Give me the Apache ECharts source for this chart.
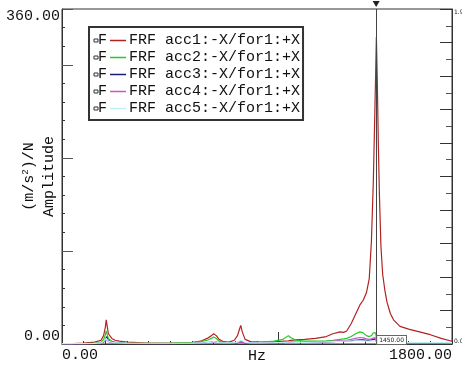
<!DOCTYPE html>
<html><head><meta charset="utf-8">
<script src="https://cdn.jsdelivr.net/npm/echarts@6/dist/echarts.min.js"></script>
<style>html,body{margin:0;padding:0;background:#fff}#c{width:462px;height:370px}</style>
</head><body><div id="c"></div>
<script>
const FONT = 'Liberation Mono';
const freq = [0, 50, 100, 150, 180, 192, 200, 204, 207, 210,
 214, 218, 222, 230, 245, 265, 300, 400, 500, 600,
 640, 670, 690, 700, 706, 712, 725, 745, 770, 795,
 810, 818, 825, 832, 845, 870, 920, 980, 1020, 1045,
 1055, 1080, 1120, 1170, 1220, 1250, 1283, 1300, 1314, 1335,
 1355, 1375, 1390, 1405, 1418, 1428, 1437, 1444, 1448, 1451,
 1455, 1460, 1465, 1472, 1480, 1490, 1500, 1515, 1530, 1560,
 1600, 1650, 1700, 1750, 1800];
const acc1 = [0.5, 0.5, 1, 2, 4, 9, 18, 26, 28, 17,
 11, 12, 9, 6, 4, 3, 2, 1, 1, 1.5,
 3, 6, 9, 11, 12, 9, 5, 2.5, 2, 4,
 9, 15, 20, 13, 5, 2.5, 2, 2.5, 3, 3.5,
 4, 4.5, 5, 6, 8, 11, 13, 12.5, 14, 22,
 32, 42, 47, 55, 70, 110, 176, 250, 295, 330,
 285, 215, 160, 105, 75, 58, 45, 33, 26, 19,
 16, 13, 10, 6, 3];
const acc2 = [0.3, 0.3, 0.5, 1, 2, 5, 10, 14, 15, 9,
 6, 5, 4, 3, 2, 1.5, 1, 0.8, 1, 1.5,
 2.5, 4, 6, 7.5, 8, 6, 3, 1.5, 1, 1,
 1.5, 2, 2.5, 2, 1.5, 1.5, 2, 3, 5, 9,
 7, 4, 3, 3, 3.5, 4, 5, 5.5, 6, 8,
 11, 13, 12, 9, 8, 9, 12, 14, 12, 6,
 3, 2, 1.5, 1.5, 1.5, 1.5, 1.5, 1.5, 1.5, 1.5,
 1.5, 1.5, 1.5, 1.2, 1];
const acc3 = [0.2, 0.2, 0.3, 0.5, 1, 2.5, 5, 7, 8, 5,
 3, 3, 2.5, 2, 1.5, 1, 0.8, 0.5, 0.5, 0.8,
 1, 1.5, 2, 2.5, 2.5, 2, 1.2, 0.8, 0.8, 1,
 1.5, 2, 2.5, 2, 1.2, 1, 1, 1.2, 1.5, 2,
 2, 1.8, 1.8, 2, 2.2, 2.5, 3, 3, 3.2, 3.5,
 4, 4.5, 4.5, 4, 4, 4.5, 5, 5.5, 4.5, 2.5,
 1.5, 1.2, 1, 1, 1, 1, 1, 1, 1, 1,
 1, 1, 1, 1, 0.8];
const acc4 = [0.2, 0.2, 0.3, 0.5, 1, 2, 4, 5, 5.5, 3.5,
 2.5, 2.5, 2, 1.5, 1, 0.8, 0.6, 0.5, 0.5, 0.8,
 1, 1.2, 1.5, 2, 2, 1.5, 1, 0.8, 0.8, 1,
 1.5, 2, 2.5, 2, 1.2, 1, 1, 1.2, 1.5, 2,
 2, 1.8, 1.8, 2, 2.5, 3, 3.5, 3.8, 4, 5,
 6, 7, 6.5, 5.5, 5, 5.5, 6.5, 7, 5, 2.5,
 1.5, 1.2, 1, 1, 1, 1, 1, 1, 1, 1,
 1, 1, 1, 0.8, 0.6];
const acc5 = [0.3, 0.3, 0.4, 0.6, 1.2, 3, 5, 6, 6.5, 4,
 3, 3, 2.5, 2, 1.5, 1.2, 1, 0.8, 0.8, 1,
 1.2, 1.5, 2, 2.5, 2.5, 2, 1.5, 1.2, 1.2, 1.5,
 2, 3, 4, 3, 1.8, 1.2, 1.2, 1.4, 1.6, 2,
 2, 1.8, 1.8, 2, 2.2, 2.5, 2.8, 3, 3, 3.2,
 3.5, 3.5, 3.2, 3, 3, 3.2, 3.5, 3.5, 2.5, 1.8,
 1.5, 1.5, 1.5, 1.5, 1.5, 1.5, 1.5, 1.5, 1.5, 1.5,
 1.5, 1.5, 1.5, 1.5, 1.5];
const seriesNames = ['FRF acc1:-X/for1:+X','FRF acc2:-X/for1:+X','FRF acc3:-X/for1:+X','FRF acc4:-X/for1:+X','FRF acc5:-X/for1:+X'];
const seriesColors = ['#b22222','#22cc22','#1a1a80','#cc55cc','#bff0f8'];
const seriesValues = [acc1, acc2, acc3, acc4, acc5];
const xRange = [0, 1800];
const xTickLabels = {0: '0.00', 1800: '1800.00'};
const yRange = [0, 360];
const yTickLabels = {0: '0.00', 360: '360.00'};
const rightRange = [0, 2];
const rightTickLabels = {0: '0.0', 2: '1.99'};
const cursorFreq = 1450;
const cursorLabel = '1450.00';

const rich = {
  sq: {width: 3, height: 3, borderColor: '#333', borderWidth: 1, verticalAlign: 'middle', padding: [0, 1, 0, 0]},
  f: {fontFamily: FONT, fontSize: 15, color: '#111', padding: [0, 3, 0, 0]},
  t: {fontFamily: FONT, fontSize: 15, color: '#111', padding: [0, 0, 0, 3]}
};
seriesColors.forEach((c, i) => {
  rich['l' + i] = {width: 16, height: 1.5, backgroundColor: c, verticalAlign: 'middle'};
});

const series = seriesNames.map((name, i) => {
  const s = {
    name, type: 'line', showSymbol: false, symbol: 'none', animation: false,
    color: seriesColors[i],
    lineStyle: {width: 1.2, color: seriesColors[i]},
    data: freq.map((f, k) => [f, seriesValues[i][k]])
  };
  if (i === 0) {
    s.markLine = {silent: true, symbol: 'none', animation: false,
      lineStyle: {color: '#444', width: 1, type: 'solid'}, label: {show: false},
      data: [{xAxis: cursorFreq}]};
    s.markPoint = {silent: true, animation: false, data: [
      {coord: [cursorFreq, yRange[1]], symbol: 'triangle', symbolRotate: 180, symbolSize: [7, 6], symbolOffset: [0, -5], itemStyle: {color: '#222'}, label: {show: false}},
      {coord: [cursorFreq, 0], symbol: 'rect', symbolSize: 0, label: {show: true, position: 'right', distance: 1, offset: [0, -4], formatter: cursorLabel, fontFamily: 'DejaVu Sans', fontSize: 6, color: '#222', backgroundColor: '#fff', borderColor: '#666', borderWidth: 1, padding: [1, 2]}}
    ]};
  }
  return s;
});

const chart = echarts.init(document.getElementById('c'), null, {renderer: 'canvas'});
chart.setOption({
  animation: false,
  backgroundColor: '#fff',
  textStyle: {fontFamily: FONT},
  grid: {left: 62, right: 10, top: 9, bottom: 26, containLabel: false, outerBoundsMode: 'none', show: true, borderColor: '#333', borderWidth: 1, backgroundColor: 'transparent'},
  legend: {
    orient: 'vertical', left: 89, top: 27, icon: 'none', itemWidth: 0, itemHeight: 16, itemGap: 0,
    padding: [5, 3, 3, 0], borderColor: '#333', borderWidth: 2, backgroundColor: '#fff',
    data: seriesNames, selectedMode: false,
    formatter: name => {
      const i = seriesNames.indexOf(name);
      return '{sq|}{f|F}{l' + i + '|}{t|' + name + '}';
    },
    textStyle: {fontFamily: FONT, fontSize: 15, color: '#111', lineHeight: 17, rich}
  },
  xAxis: [{
    type: 'value', min: xRange[0], max: xRange[1], interval: 100,
    axisLine: {lineStyle: {color: '#333'}},
    axisTick: {inside: true, length: 3, lineStyle: {color: '#333'}},
    splitLine: {show: false},
    axisLabel: {margin: 4, fontFamily: FONT, fontSize: 15, color: '#111',
      formatter: v => xTickLabels[v] || '', alignMinLabel: 'left', alignMaxLabel: 'right', showMinLabel: true, showMaxLabel: true},
    name: 'Hz', nameLocation: 'middle', nameGap: 5, nameMoveOverlap: false,
    nameTextStyle: {fontFamily: FONT, fontSize: 15, color: '#111', verticalAlign: 'top'}
  }, {
    type: 'value', min: xRange[0], max: xRange[1], interval: 1000, position: 'bottom',
    axisLine: {show: false}, axisLabel: {show: false}, splitLine: {show: false},
    axisTick: {inside: true, length: 12, lineStyle: {color: '#333'}}
  }],
  yAxis: [{
    type: 'value', min: yRange[0], max: yRange[1], interval: 20, position: 'left',
    axisLine: {show: true, lineStyle: {color: '#333'}},
    axisTick: {show: true, inside: true, length: 3, lineStyle: {color: '#333'}},
    splitLine: {show: false},
    axisLabel: {margin: 2, fontFamily: FONT, fontSize: 15, color: '#111',
      formatter: v => yTickLabels[v] || '', verticalAlignMinLabel: 'bottom', verticalAlignMaxLabel: 'top', showMinLabel: true, showMaxLabel: true},
    name: 'Amplitude', nameLocation: 'middle', nameGap: 5, nameRotate: 90, nameMoveOverlap: false,
    nameTextStyle: {fontFamily: FONT, fontSize: 15, color: '#111', verticalAlign: 'bottom'}
  }, {
    type: 'value', min: yRange[0], max: yRange[1], interval: 100, position: 'left',
    axisLine: {show: false}, axisLabel: {show: false}, splitLine: {show: false},
    axisTick: {show: true, inside: true, length: 11, lineStyle: {color: '#555'}},
    name: '(m/s{sup|2})/N', nameLocation: 'middle', nameGap: 24, nameRotate: 90, nameMoveOverlap: false,
    nameTextStyle: {fontFamily: FONT, fontSize: 15, color: '#111', verticalAlign: 'bottom',
      rich: {sup: {fontFamily: FONT, fontSize: 9, color: '#111', verticalAlign: 'top', padding: [0, 0, 8, 0]}}}
  }, {
    type: 'value', min: rightRange[0], max: rightRange[1], interval: 0.1, position: 'right',
    axisLine: {show: true, lineStyle: {color: '#333'}},
    axisTick: {show: true, inside: true, length: 6, lineStyle: {color: '#555'}},
    splitLine: {show: false},
    axisLabel: {margin: 2, fontFamily: 'DejaVu Sans', fontSize: 6, color: '#222',
      formatter: v => rightTickLabels[v] || '', showMinLabel: true, showMaxLabel: true,
      verticalAlignMinLabel: 'bottom', verticalAlignMaxLabel: 'top'},
    name: 'Amplitude', nameLocation: 'middle', nameGap: 3, nameRotate: -90, nameMoveOverlap: false,
    nameTextStyle: {fontFamily: 'DejaVu Sans', fontSize: 5, color: '#222', padding: [0, 0, 38, 0]}
  }, {
    type: 'value', min: rightRange[0], max: rightRange[1], interval: 0.2, position: 'right',
    axisLine: {show: false}, axisLabel: {show: false}, splitLine: {show: false},
    axisTick: {show: true, inside: true, length: 12, lineStyle: {color: '#333'}}
  }],
  series
});
</script></body></html>
